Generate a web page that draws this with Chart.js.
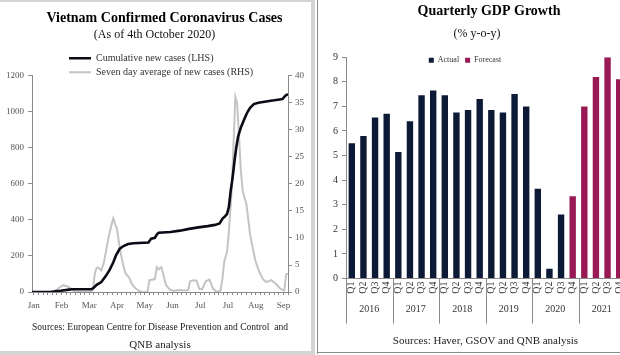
<!DOCTYPE html>
<html>
<head>
<meta charset="utf-8">
<script src="https://cdn.jsdelivr.net/npm/chart.js@4.4.1/dist/chart.umd.min.js"></script>
<style>
  html, body { margin:0; padding:0; background:#fff; }
  body { width:620px; height:355px; overflow:hidden; position:relative; }
  .wrap { position:absolute; }
  #covidWrap { left:0; top:0; width:311px; height:354px; }
  #gdpWrap { left:318px; top:0; width:342px; height:352px; }
  .rule { position:absolute; background:#d4d4d4; }
</style>
</head>
<body>
<div class="wrap" id="covidWrap"><canvas id="covid" width="311" height="354"></canvas></div>
<div class="wrap" id="gdpWrap"><canvas id="gdp" width="342" height="352"></canvas></div>
<div class="rule" style="left:0;top:0;width:312px;height:2px;"></div>
<div class="rule" style="left:311px;top:0;width:4px;height:355px;"></div>
<div class="rule" style="left:0;top:351px;width:313px;height:4px;"></div>
<div class="rule" style="left:317px;top:0;width:1px;height:354px;background:#8c8c8c;"></div>
<div class="rule" style="left:317px;top:352px;width:303px;height:1px;background:#8c8c8c;"></div>
<script>
// ---------- Left chart data: Vietnam confirmed coronavirus cases ----------
const monthLabels = ['Jan','Feb','Mar','Apr','May','Jun','Jul','Jul','Aug','Sep'];
const monthTickDays = [2,32,62,92,122,152,182,212,242,272];

const cumulativeDays = [0,20,22,27,31,40,43,64,66,70,75,80,84,88,91,95,99,104,110,126,129,133,135,137,150,160,170,180,190,198,203,206,209,211,213,215,217,219,221,223,226,230,233,236,240,245,250,255,262,268,271,273,275,277];
const cumulativeCases = [0,0,2,6,8,14,16,16,20,40,56,90,123,165,205,240,255,266,270,274,296,300,318,328,333,340,350,358,365,372,380,405,420,432,470,560,631,720,799,860,911,960,995,1020,1040,1048,1052,1056,1061,1066,1068,1080,1090,1095];

const averageDays = [0,22,27,30,34,39,43,47,64,66,68,70,72,75,78,80,83,86,88,90,92,95,98,101,105,108,112,116,120,125,127,130,133,135,137,140,142,145,149,153,159,166,169,171,175,178,181,184,188,192,196,200,204,206,208,211,213,216,218,220,222,224,226,228,232,234,236,239,242,246,250,253,256,259,264,269,273,275,277];
const sevenDayAverage = [0,0,0.4,0.9,1.3,1.0,0.5,0,0,0.5,3.5,4.5,4.5,4.0,5.6,7.5,10.2,12.4,13.6,12.5,11.7,8,5.5,3.5,2.7,1.5,0.7,0.2,0,0,2.2,2.3,2.4,4.6,4.2,4.6,3.3,1.3,0.5,0.2,0.4,0.3,0.4,2.0,2.2,2.1,0.6,0.5,2.0,2.3,0.6,0,0.3,2.4,5.6,7.4,11,18.6,27,36,34.8,28.8,22.3,18.6,16.2,13.4,10.6,8,5.6,3.7,2.4,1.9,2.0,2.2,1.5,0.6,0.3,3.3,3.4];

// ---------- Right chart data: Quarterly GDP growth ----------
const quarterLabels = ['Q1','Q2','Q3','Q4','Q1','Q2','Q3','Q4','Q1','Q2','Q3','Q4','Q1','Q2','Q3','Q4','Q1','Q2','Q3','Q4','Q1','Q2','Q3','Q4'];
const yearLabels = ['2016','2017','2018','2019','2020','2021'];
const actualGrowth = [5.5,5.8,6.55,6.7,5.15,6.4,7.45,7.65,7.45,6.75,6.85,7.3,6.85,6.75,7.5,7.0,3.65,0.4,2.6,null,null,null,null,null];
const forecastGrowth = [null,null,null,null,null,null,null,null,null,null,null,null,null,null,null,null,null,null,null,3.35,7.0,8.2,9.0,8.1];

const SERIF = "'Liberation Serif', 'Times New Roman', serif";
Chart.defaults.font.family = SERIF;
Chart.defaults.color = '#333';

// shift layout boxes (legend / title) after layout
const shiftBoxes = {
  id: 'shiftBoxes',
  afterLayout(chart, args, opts) {
    const mv = (box, o) => {
      if (!box || !o) return;
      const dx = o.dx || 0, dy = o.dy || 0;
      box.left += dx; box.right += dx; box.top += dy; box.bottom += dy;
    };
    mv(chart.legend, opts.legend);
    mv(chart.titleBlock, opts.title);
  }
};

// year group dividers for the quarterly axis
const yearDividers = {
  id: 'yearDividers',
  afterDraw(chart, args, opts) {
    const s = chart.scales.x2;
    if (!s) return;
    const ctx = chart.ctx;
    const n = s.ticks.length;
    const step = s.getPixelForTick(1) - s.getPixelForTick(0);
    const top = chart.chartArea.bottom;
    ctx.save();
    ctx.strokeStyle = opts.color;
    ctx.lineWidth = 1;
    for (let i = 0; i <= n; i++) {
      const x = Math.round(s.getPixelForTick(0) - step / 2 + i * step) + 0.5;
      ctx.beginPath();
      ctx.moveTo(x, top);
      ctx.lineTo(x, top + opts.length);
      ctx.stroke();
    }
    ctx.restore();
  }
};

const minorTicks = [];
for (let d = monthTickDays[0]; d <= 277; d += 5) minorTicks.push(d);

new Chart(document.getElementById('covid'), {
  type: 'line',
  data: {
    datasets: [
      {
        label: 'Cumulative new cases (LHS)',
        data: cumulativeDays.map((d, i) => ({ x: d, y: cumulativeCases[i] })),
        yAxisID: 'y',
        borderColor: '#0b0b18',
        backgroundColor: '#0b0b18',
        borderWidth: 2.6,
        pointRadius: 0,
        tension: 0
      },
      {
        label: 'Seven day average of new cases (RHS)',
        data: averageDays.map((d, i) => ({ x: d, y: sevenDayAverage[i] })),
        yAxisID: 'y1',
        borderColor: '#c4c4c4',
        backgroundColor: '#c4c4c4',
        borderWidth: 2,
        pointRadius: 0,
        tension: 0
      }
    ]
  },
  plugins: [shiftBoxes],
  options: {
    responsive: false,
    animation: false,
    layout: { padding: { left: 2, right: 4, top: 0, bottom: 0 } },
    plugins: {
      title: { display: true, text: 'Vietnam Confirmed Coronavirus Cases', color: '#000',
               font: { size: 14, weight: 'bold' }, padding: { top: 10, bottom: 1 } },
      subtitle: { display: true, text: '(As of 4th October 2020)', color: '#111',
                  font: { size: 12 }, padding: { top: 0, bottom: 0 } },
      legend: {
        display: true, position: 'top', align: 'start', maxHeight: 33,
        labels: { usePointStyle: true, pointStyle: 'line', pointStyleWidth: 22,
                  padding: 4, font: { size: 10 }, color: '#333' }
      },
      shiftBoxes: { legend: { dx: 63, dy: 7 }, title: { dx: 10, dy: 0 } },
      tooltip: { enabled: false }
    },
    scales: {
      x: {
        type: 'linear', min: 0, max: 277,
        afterBuildTicks: (ax) => { ax.ticks = minorTicks.map(v => ({ value: v })); },
        ticks: {
          autoSkip: false, maxRotation: 0, minRotation: 0, padding: 5,
          font: { size: 9 }, color: '#555',
          callback: (v) => { const k = monthTickDays.indexOf(v); return k >= 0 ? monthLabels[k] : ''; }
        },
        grid: { drawOnChartArea: false, tickLength: 3, color: '#8a8a8a' },
        border: { color: '#8a8a8a' },
        title: {
          display: true,
          text: ['Sources: European Centre for Disease Prevention and Control  and', 'QNB analysis'],
          color: '#222', font: { size: 11, lineHeight: 1.64 }, padding: { top: 2, bottom: 0 }
        }
      },
      y: {
        position: 'left', min: 0, max: 1200,
        ticks: { stepSize: 200, padding: 4, font: { size: 9 }, color: '#555',
                 callback: (v) => String(v) },
        grid: { drawOnChartArea: false, tickLength: 4, color: '#8a8a8a' },
        border: { color: '#8a8a8a' }
      },
      y1: {
        position: 'right', min: 0, max: 40,
        ticks: { stepSize: 5, padding: 3, font: { size: 9 }, color: '#555' },
        grid: { drawOnChartArea: false, tickLength: 4, color: '#8a8a8a' },
        border: { color: '#8a8a8a' }
      }
    }
  }
});

new Chart(document.getElementById('gdp'), {
  type: 'bar',
  data: {
    labels: quarterLabels,
    datasets: [
      { label: 'Actual', data: actualGrowth, backgroundColor: '#0c1a36', grouped: false,
        categoryPercentage: 1, barPercentage: 0.55 },
      { label: 'Forecast', data: forecastGrowth, backgroundColor: '#991955', grouped: false,
        categoryPercentage: 1, barPercentage: 0.55 }
    ]
  },
  plugins: [shiftBoxes, yearDividers],
  options: {
    responsive: false,
    animation: false,
    layout: { padding: { left: 11, right: 35, top: 0, bottom: 4 } },
    plugins: {
      title: { display: true, text: 'Quarterly GDP Growth', color: '#000',
               font: { size: 14, weight: 'bold' }, padding: { top: 3, bottom: 7 } },
      subtitle: { display: true, text: '(% y-o-y)', color: '#111',
                  font: { size: 12 }, padding: { top: 0, bottom: 0 } },
      legend: {
        display: true, position: 'top', align: 'center', maxHeight: 16,
        labels: { boxWidth: 5, boxHeight: 5, padding: 6, font: { size: 8 }, color: '#333' }
      },
      shiftBoxes: { legend: { dx: -12, dy: 9 }, title: { dx: 12, dy: 0 } },
      yearDividers: { color: '#8a8a8a', length: 45 },
      tooltip: { enabled: false }
    },
    scales: {
      x: {
        type: 'category',
        grid: { display: false, drawTicks: false },
        border: { color: '#8a8a8a' },
        ticks: { autoSkip: false, minRotation: 90, maxRotation: 90, padding: 3,
                 font: { size: 10 }, color: '#333' }
      },
      x2: {
        type: 'category', labels: yearLabels, position: 'bottom',
        grid: { display: false, drawTicks: false },
        border: { display: false },
        ticks: { padding: 7, font: { size: 10 }, color: '#333' },
        title: { display: true, text: 'Sources: Haver, GSOV and QNB analysis', color: '#222',
                 font: { size: 11 }, padding: { top: 12, bottom: 0 } }
      },
      y: {
        min: 0, max: 9,
        ticks: { stepSize: 1, padding: 4, font: { size: 10 }, color: '#333' },
        grid: { drawOnChartArea: false, tickLength: 4, color: '#8a8a8a' },
        border: { color: '#8a8a8a' }
      }
    }
  }
});
</script>
</body>
</html>
